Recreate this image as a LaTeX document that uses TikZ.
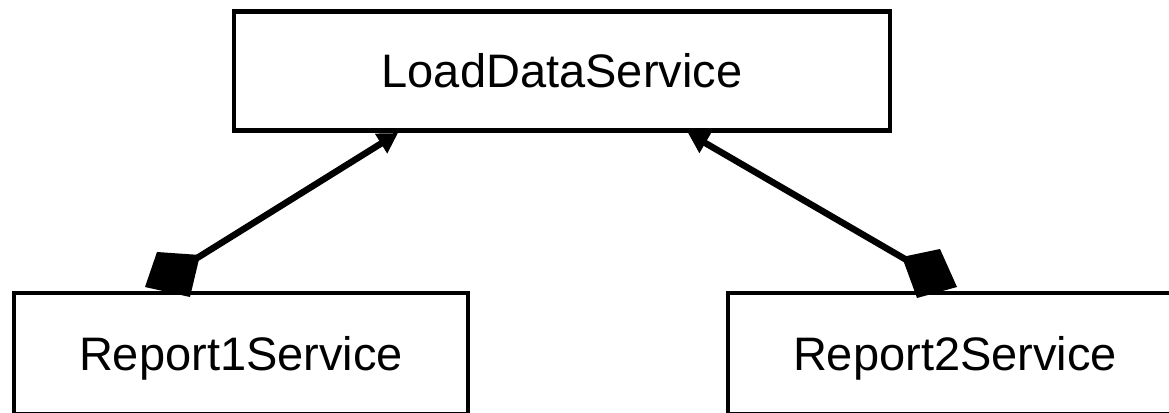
\documentclass[tikz,border=0pt]{standalone}
\usepackage{fontspec}
\setmainfont{Liberation Sans}
\usetikzlibrary{arrows.meta}
\begin{document}
\begin{tikzpicture}[x=1pt,y=-1pt,
  classbox/.style={draw=black,line width=4.5pt,fill=white,rectangle,inner sep=0pt,outer sep=0pt,
    font=\fontsize{47}{56}\selectfont,text height=33.7pt,text depth=0pt},
  composition/.style={fill=black},
  link/.style={line width=6.5pt,-{Triangle[length=20pt,width=22pt]}}]
\useasboundingbox (0,0) rectangle (1169,412);
% classes
\node[classbox,minimum width=656pt,minimum height=118.5pt] (load) at (562,71) {LoadDataService};
\node[classbox,minimum width=454pt,minimum height=121pt] (rep1) at (241,353.5) {Report1Service};
\node[classbox,minimum width=454pt,minimum height=121pt] (rep2) at (955,353.5) {Report2Service};
% composition ends and arrow tips on the lower edge of LoadDataService
\coordinate (c1) at (173,273);
\coordinate (c2) at (929,273);
\coordinate (t1) at (398,133);
\coordinate (t2) at (688,133);
\draw[link] (c1) -- (t1);
\draw[link] (c2) -- (t2);
\fill[composition] (157,252) -- (200,255) -- (190,297) -- (145,287) -- cycle;
\fill[composition] (902,257) -- (940,249) -- (957,287) -- (917,298) -- cycle;
\end{tikzpicture}
\end{document}
